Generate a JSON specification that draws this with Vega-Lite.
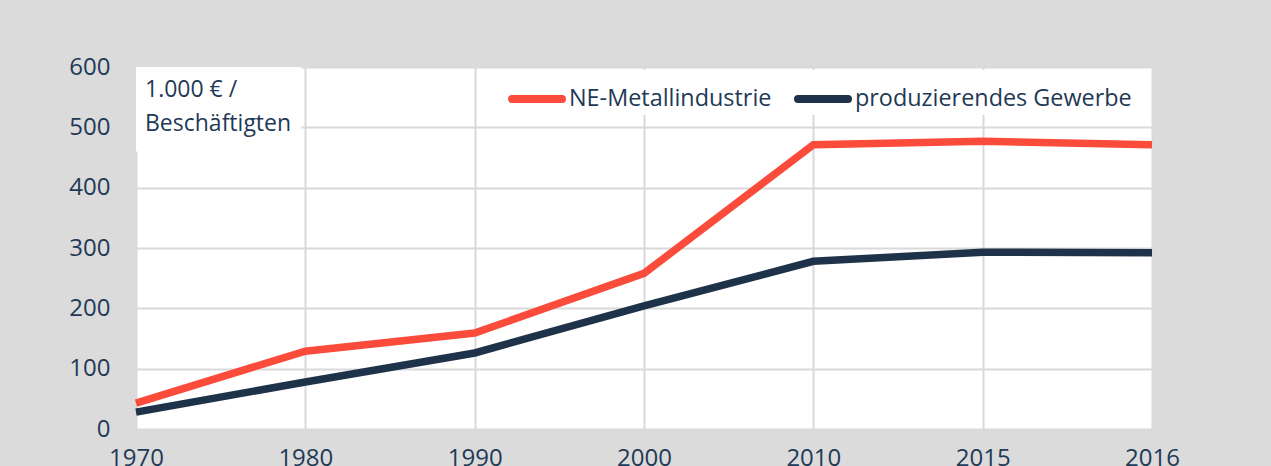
{
  "$schema": "https://vega.github.io/schema/vega-lite/v6.json",
  "width": 1016,
  "height": 362,
  "autosize": {"type": "none"},
  "padding": {"left": 136, "top": 67, "right": 119, "bottom": 37},
  "background": "#dbdbdb",
  "config": {
    "font": "Open Sans",
    "view": {"fill": "white", "stroke": null},
    "axis": {
      "labelFont": "Open Sans",
      "labelFontSize": 24,
      "labelColor": "#1f3a56",
      "gridColor": "#d9d9d9",
      "gridWidth": 2,
      "domain": false,
      "ticks": false,
      "title": null
    },
    "axisX": {"grid": true},
    "axisY": {"grid": true}
  },
  "datasets": {
    "series": [
      {"year": "1970", "series": "NE-Metallindustrie", "value": 43},
      {"year": "1980", "series": "NE-Metallindustrie", "value": 129},
      {"year": "1990", "series": "NE-Metallindustrie", "value": 159},
      {"year": "2000", "series": "NE-Metallindustrie", "value": 258},
      {"year": "2010", "series": "NE-Metallindustrie", "value": 471},
      {"year": "2015", "series": "NE-Metallindustrie", "value": 477},
      {"year": "2016", "series": "NE-Metallindustrie", "value": 471},
      {"year": "1970", "series": "produzierendes Gewerbe", "value": 28},
      {"year": "1980", "series": "produzierendes Gewerbe", "value": 78},
      {"year": "1990", "series": "produzierendes Gewerbe", "value": 126},
      {"year": "2000", "series": "produzierendes Gewerbe", "value": 204},
      {"year": "2010", "series": "produzierendes Gewerbe", "value": 278},
      {"year": "2015", "series": "produzierendes Gewerbe", "value": 293},
      {"year": "2016", "series": "produzierendes Gewerbe", "value": 292}
    ],
    "note": [
      {"label": "1.000 € /\nBeschäftigten"}
    ]
  },
  "layer": [
    {
      "data": {"name": "series"},
      "mark": {"type": "line", "strokeWidth": 7.5},
      "encoding": {
        "x": {
          "field": "year",
          "type": "ordinal",
          "scale": {"type": "point", "padding": 0},
          "axis": {"labelAngle": 0, "labelPadding": 17, "grid": true}
        },
        "y": {
          "field": "value",
          "type": "quantitative",
          "scale": {"domain": [0, 600], "nice": false},
          "axis": {"values": [0, 100, 200, 300, 400, 500, 600], "labelPadding": 26, "grid": true}
        },
        "color": {
          "field": "series",
          "type": "nominal",
          "scale": {"domain": ["NE-Metallindustrie", "produzierendes Gewerbe"], "range": ["#fa4b3b", "#1e3349"]},
          "legend": {
            "title": null,
            "orient": "none",
            "direction": "horizontal",
            "legendX": 372,
            "legendY": 3,
            "padding": 0,
            "fillColor": "white",
            "symbolType": "stroke",
            "symbolSize": 2500,
            "symbolStrokeWidth": 8,
            "labelFont": "Open Sans",
            "labelFontSize": 23.4,
            "labelColor": "#1f3a56",
            "labelOffset": 3,
            "columnPadding": 10,
            "labelLimit": 400,
            "encode": {"symbols": {"update": {"strokeCap": {"value": "round"}}}}
          }
        }
      }
    },
    {
      "data": {"name": "note"},
      "mark": {"type": "rect", "fill": "white", "x2Offset": -4},
      "encoding": {
        "x": {"datum": "1970", "type": "ordinal"},
        "x2": {"datum": "1980"},
        "y": {"datum": 600, "type": "quantitative"},
        "y2": {"datum": 460}
      }
    },
    {
      "data": {"name": "note"},
      "mark": {"type": "text", "align": "left", "baseline": "alphabetic", "dx": 9, "dy": 30, "fontSize": 23, "font": "Open Sans", "color": "#1f3a56", "lineBreak": "\n", "lineHeight": 34},
      "encoding": {
        "x": {"datum": "1970", "type": "ordinal"},
        "y": {"datum": 600, "type": "quantitative"},
        "text": {"field": "label"}
      }
    }
  ]
}
